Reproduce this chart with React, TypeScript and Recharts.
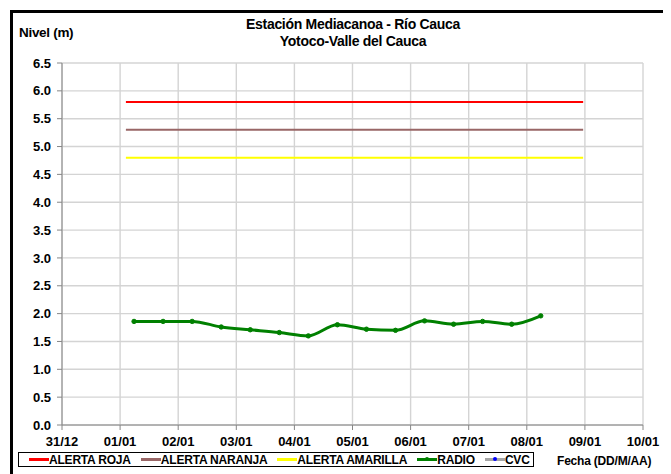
import React from 'react'
import { LineChart, Line, XAxis, YAxis, CartesianGrid } from 'recharts'

// ticks of the date axis (days since 31/12)
const dateTicks = [0, 1, 2, 3, 4, 5, 6, 7, 8, 9, 10]
const dateLabels = ['31/12', '01/01', '02/01', '03/01', '04/01', '05/01', '06/01', '07/01', '08/01', '09/01', '10/01']
const levelTicks = [0, 0.5, 1, 1.5, 2, 2.5, 3, 3.5, 4, 4.5, 5, 5.5, 6, 6.5]

// RADIO readings (two per day)
const radioDays = [1.24, 1.74, 2.24, 2.74, 3.24, 3.74, 4.24, 4.74, 5.24, 5.74, 6.24, 6.74, 7.24, 7.74, 8.24]
const radioNivel = [1.86, 1.86, 1.86, 1.76, 1.71, 1.66, 1.6, 1.8, 1.72, 1.7, 1.87, 1.81, 1.86, 1.81, 1.96]

// alert thresholds
const alertDays = [1.1, 8.97]
const alertaRoja = 5.8
const alertaNaranja = 5.3
const alertaAmarilla = 4.8

const FONT = '"Liberation Sans", Arial, sans-serif'

const radioData = radioDays.map((d, i) => ({ d, v: radioNivel[i] }))
const flat = (v: number) => alertDays.map((d) => ({ d, v }))

const legendItems = [
  { name: 'ALERTA ROJA', color: '#ff0000' },
  { name: 'ALERTA NARANJA', color: '#996666' },
  { name: 'ALERTA AMARILLA', color: '#ffff00' },
  { name: 'RADIO', color: '#008000', marker: '#008000' },
  { name: 'CVC', color: '#a6a6a6', marker: '#0000ff' },
]

const tickStyle = { fill: '#000', fontSize: 13, fontWeight: 'bold', fontFamily: FONT }

export default function App() {
  return (
    <div
      style={{
        margin: 2,
        width: 652,
        height: 470,
        border: '3px solid #000',
        position: 'relative',
        fontFamily: FONT,
        background: '#fff',
      }}
    >
      <div
        style={{
          position: 'absolute',
          left: 340,
          top: 3,
          transform: 'translateX(-50%)',
          textAlign: 'center',
          fontWeight: 'bold',
          fontSize: 14,
          lineHeight: '16.5px',
          whiteSpace: 'nowrap',
          letterSpacing: -0.3,
        }}
      >
        <div>Estación Mediacanoa - Río Cauca</div>
        <div>Yotoco-Valle del Cauca</div>
      </div>
      <div
        style={{
          position: 'absolute',
          left: 6,
          top: 12,
          fontWeight: 'bold',
          fontSize: 13.5,
          letterSpacing: -0.3,
        }}
      >
        Nivel (m)
      </div>

      <div style={{ position: 'absolute', left: 0, top: 0 }}>
        <LineChart width={652} height={460} margin={{ top: 50, right: 22, bottom: 28, left: 9 }}>
          <CartesianGrid stroke="#d4d4d4" strokeWidth={1.4} />
          <XAxis
            type="number"
            dataKey="d"
            domain={[0, 10]}
            ticks={dateTicks}
            tickFormatter={(v) => dateLabels[v]}
            interval={0}
            height={20}
            stroke="#868686"
            tickSize={5}
            tickMargin={7}
            tick={tickStyle}
          />
          <YAxis
            type="number"
            domain={[0, 6.5]}
            ticks={levelTicks}
            tickFormatter={(v) => v.toFixed(1)}
            interval={0}
            width={40}
            stroke="#868686"
            tickSize={5}
            tickMargin={6}
            tick={tickStyle}
          />
          <Line data={flat(alertaRoja)} dataKey="v" stroke="#ff0000" strokeWidth={2} dot={false} isAnimationActive={false} />
          <Line data={flat(alertaNaranja)} dataKey="v" stroke="#996666" strokeWidth={2} dot={false} isAnimationActive={false} />
          <Line data={flat(alertaAmarilla)} dataKey="v" stroke="#ffff00" strokeWidth={2} dot={false} isAnimationActive={false} />
          <Line
            data={radioData}
            dataKey="v"
            type="monotone"
            stroke="#008000"
            strokeWidth={3}
            dot={{ r: 2.2, fill: '#008000', stroke: '#008000', strokeWidth: 1 }}
            isAnimationActive={false}
          />
        </LineChart>
      </div>

      <div
        style={{
          position: 'absolute',
          left: 5,
          top: 439,
          width: 514,
          height: 13,
          border: '1px solid #000',
          display: 'flex',
          alignItems: 'center',
          fontSize: 12,
          fontWeight: 'bold',
          whiteSpace: 'nowrap',
          letterSpacing: -0.2,
        }}
      >
        {legendItems.map((it) => (
          <div key={it.name} style={{ display: 'flex', alignItems: 'center', marginLeft: 10 }}>
            <div style={{ position: 'relative', width: 20, height: 3, background: it.color }}>
              {it.marker && (
                <div
                  style={{
                    position: 'absolute',
                    left: 8,
                    top: -1,
                    width: 4,
                    height: 4,
                    borderRadius: 2,
                    background: it.marker,
                  }}
                />
              )}
            </div>
            <span style={{ lineHeight: '13px', paddingTop: 2 }}>{it.name}</span>
          </div>
        ))}
      </div>
      <div
        style={{
          position: 'absolute',
          left: 544,
          top: 441,
          fontSize: 12,
          fontWeight: 'bold',
          whiteSpace: 'nowrap',
          letterSpacing: -0.2,
        }}
      >
        Fecha (DD/M/AA)
      </div>
    </div>
  )
}
